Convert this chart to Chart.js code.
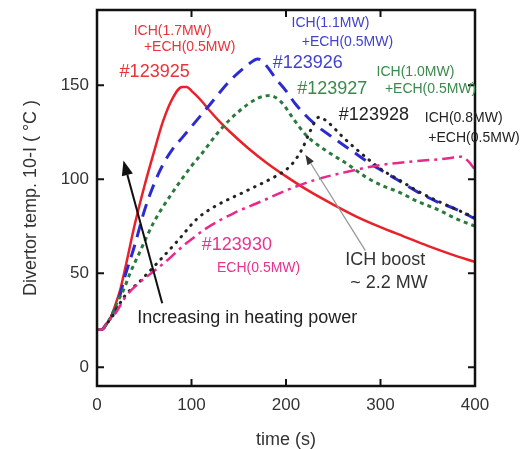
<!DOCTYPE html>
<html>
<head>
<meta charset="utf-8">
<script src="https://cdn.jsdelivr.net/npm/chart.js@4.4.1/dist/chart.umd.min.js"></script>
<style>
  html, body { margin: 0; padding: 0; background: #fff; }
  canvas { display: block; }
</style>
</head>
<body>
<canvas id="divertor" width="523" height="449"></canvas>
<script>
// time (s) and temperature (degC) for each shot
const t123925 = [0, 5, 10, 15, 20, 25, 30, 40, 50, 60, 70, 80, 90, 95, 100, 110, 120, 130, 140, 160, 180, 200, 225, 250, 275, 300, 325, 350, 375, 400];
const v123925 = [20, 20, 23, 27, 34, 42, 53, 76, 96, 114, 131, 143, 149, 149, 147, 142, 136, 130.5, 125.5, 116.5, 108.5, 101.5, 93.5, 86.5, 80, 74.5, 69.5, 64.5, 60, 56];

const t123926 = [0, 5, 10, 15, 20, 30, 40, 50, 60, 70, 80, 90, 100, 120, 140, 160, 170, 178, 190, 200, 210, 230, 250, 270, 290, 300, 320, 340, 360, 380, 400];
const v123926 = [20, 20, 23, 27, 31, 49, 65, 83, 97, 108, 116, 122, 128, 140, 152, 161, 164, 161, 153, 147, 140, 129.5, 122, 115, 108, 105, 99, 93, 88, 84, 79];

const t123927 = [0, 5, 10, 15, 20, 28, 35, 45, 60, 80, 100, 110, 130, 150, 170, 183, 195, 208, 222, 243, 265, 285, 300, 320, 340, 360, 380, 400];
const v123927 = [20, 20, 23, 27, 33, 41, 50, 61, 77, 93, 107, 113, 126, 136, 143, 144.5, 141, 132, 123, 115, 108, 101, 97, 93, 88, 84, 79, 75];

const t123928 = [0, 5, 10, 15, 20, 28, 46, 63, 85, 106, 123, 159, 187, 200, 208, 217, 226, 235, 245, 261, 279, 300, 320, 340, 360, 380, 400];
const v123928 = [20, 20, 23, 26, 30, 37, 46, 55, 67, 79, 85, 94, 101, 105, 109, 116, 126, 133, 130, 122, 114, 105.5, 99.5, 93.5, 88.5, 84, 79.5];

const t123930 = [0, 5, 10, 15, 20, 31, 45, 60, 77, 91, 100, 116, 145, 173, 200, 230, 265, 300, 335, 370, 385, 393, 400];
const v123930 = [20, 20, 23, 26, 29, 38, 45, 51, 58, 64.5, 68, 74, 82, 88, 94, 99.5, 104, 107.5, 109.5, 111, 112, 109.5, 105];

const xTicks = [0, 100, 200, 300, 400];
const yTicks = [0, 50, 100, 150];

const pts = (ts, vs) => ts.map((t, i) => ({ x: t, y: vs[i] }));

// text notes, placed in data units
const notes = [
  { text: 'ICH(1.7MW)', x: 80, y: 179, color: '#e8333a', size: 14 },
  { text: '+ECH(0.5MW)', x: 98, y: 170, color: '#e8333a', size: 14 },
  { text: '#123925', x: 61, y: 157, color: '#e8333a', size: 18 },
  { text: 'ICH(1.1MW)', x: 247, y: 183, color: '#4242cc', size: 14 },
  { text: '+ECH(0.5MW)', x: 265, y: 173, color: '#4242cc', size: 14 },
  { text: '#123926', x: 223, y: 162, color: '#4242cc', size: 18 },
  { text: 'ICH(1.0MW)', x: 337, y: 157, color: '#3a8a4c', size: 14 },
  { text: '+ECH(0.5MW)', x: 353, y: 148, color: '#3a8a4c', size: 14 },
  { text: '#123927', x: 249, y: 148, color: '#3a8a4c', size: 18 },
  { text: '#123928', x: 293, y: 134, color: '#222', size: 18 },
  { text: 'ICH(0.8MW)', x: 388, y: 132.5, color: '#222', size: 14 },
  { text: '+ECH(0.5MW)', x: 399, y: 122, color: '#222', size: 14 },
  { text: '#123930', x: 148, y: 65, color: '#e8338f', size: 18 },
  { text: 'ECH(0.5MW)', x: 171, y: 52.7, color: '#e8338f', size: 14 },
  { text: 'ICH boost', x: 305, y: 57, color: '#333', size: 18 },
  { text: '~ 2.2 MW', x: 309, y: 44.7, color: '#333', size: 18 },
  { text: 'Increasing in heating power', x: 159, y: 26, color: '#222', size: 18 }
];

const arrows = [
  { from: [69, 34], to: [28, 110], color: '#111', width: 2, head: 15, headColor: '#111' },
  { from: [284, 62], to: [220.5, 113], color: '#999', width: 1.3, head: 10, headColor: '#333' }
];

const FONT = '"Liberation Sans", Arial, sans-serif';

const decor = {
  id: 'decor',
  afterDatasetsDraw(chart) {
    const { ctx, chartArea: a, scales: { x, y } } = chart;
    ctx.save();
    // inward ticks on all four sides
    ctx.strokeStyle = '#111';
    ctx.lineWidth = 2;
    const tl = 7;
    ctx.beginPath();
    xTicks.forEach(v => {
      const px = x.getPixelForValue(v);
      ctx.moveTo(px, a.bottom); ctx.lineTo(px, a.bottom - tl);
      ctx.moveTo(px, a.top); ctx.lineTo(px, a.top + tl);
    });
    yTicks.forEach(v => {
      const py = y.getPixelForValue(v);
      ctx.moveTo(a.left, py); ctx.lineTo(a.left + tl, py);
      ctx.moveTo(a.right, py); ctx.lineTo(a.right - tl, py);
    });
    ctx.stroke();
    // frame
    ctx.lineWidth = 2.5;
    ctx.strokeRect(a.left, a.top, a.right - a.left, a.bottom - a.top);

    // arrows
    arrows.forEach(ar => {
      const x0 = x.getPixelForValue(ar.from[0]), y0 = y.getPixelForValue(ar.from[1]);
      const x1 = x.getPixelForValue(ar.to[0]), y1 = y.getPixelForValue(ar.to[1]);
      const ang = Math.atan2(y1 - y0, x1 - x0);
      const bx = x1 - ar.head * Math.cos(ang), by = y1 - ar.head * Math.sin(ang);
      ctx.strokeStyle = ar.color;
      ctx.lineWidth = ar.width;
      ctx.beginPath();
      ctx.moveTo(x0, y0);
      ctx.lineTo(bx, by);
      ctx.stroke();
      const w = ar.head * 0.38;
      ctx.fillStyle = ar.headColor;
      ctx.beginPath();
      ctx.moveTo(x1, y1);
      ctx.lineTo(bx + w * Math.sin(ang), by - w * Math.cos(ang));
      ctx.lineTo(bx - w * Math.sin(ang), by + w * Math.cos(ang));
      ctx.closePath();
      ctx.fill();
    });

    // text notes
    ctx.textAlign = 'center';
    ctx.textBaseline = 'middle';
    notes.forEach(n => {
      ctx.fillStyle = n.color;
      ctx.font = n.size + 'px ' + FONT;
      ctx.fillText(n.text, x.getPixelForValue(n.x), y.getPixelForValue(n.y));
    });
    ctx.restore();
  }
};

new Chart(document.getElementById('divertor').getContext('2d'), {
  type: 'line',
  data: {
    datasets: [
      { label: '#123930', data: pts(t123930, v123930), borderColor: '#e8288a', borderWidth: 2.5, borderDash: [12, 5, 3, 5] },
      { label: '#123928', data: pts(t123928, v123928), borderColor: '#222', borderWidth: 3, borderDash: [0.5, 7], borderCapStyle: 'round' },
      { label: '#123927', data: pts(t123927, v123927), borderColor: '#2a7a3e', borderWidth: 3, borderDash: [4, 4] },
      { label: '#123926', data: pts(t123926, v123926), borderColor: '#2b2bd0', borderWidth: 3, borderDash: [13, 8] },
      { label: '#123925', data: pts(t123925, v123925), borderColor: '#e8222a', borderWidth: 2.5 }
    ]
  },
  options: {
    responsive: false,
    animation: false,
    layout: { padding: { left: 0, right: 48, top: 10, bottom: 0 } },
    elements: {
      point: { radius: 0, hoverRadius: 0 },
      line: { cubicInterpolationMode: 'monotone', fill: false }
    },
    plugins: { legend: { display: false }, tooltip: { enabled: false } },
    scales: {
      x: {
        type: 'linear',
        min: 0, max: 400,
        afterFit: s => { s.height = 63; s.paddingLeft = 0; s.paddingRight = 0; },
        afterBuildTicks: s => { s.ticks = xTicks.map(v => ({ value: v })); },
        grid: { display: false, drawTicks: false },
        border: { display: false },
        ticks: { color: '#333', padding: 9, font: { family: FONT, size: 17 } },
        title: { display: true, text: 'time (s)', color: '#333', padding: 0, font: { family: FONT, size: 18, lineHeight: 1 } }
      },
      y: {
        min: -10, max: 190,
        afterFit: s => { s.width = 97; s.paddingTop = 0; s.paddingBottom = 0; },
        afterBuildTicks: s => { s.ticks = yTicks.map(v => ({ value: v })); },
        grid: { display: false, drawTicks: false },
        border: { display: false },
        ticks: { color: '#333', padding: 8, font: { family: FONT, size: 17 } },
        title: { display: true, text: 'Divertor temp. 10-I ( \u00B0C )', color: '#333', padding: { top: 20, bottom: 0 }, font: { family: FONT, size: 18, lineHeight: 1.2 } }
      }
    }
  },
  plugins: [decor]
});
</script>
</body>
</html>
